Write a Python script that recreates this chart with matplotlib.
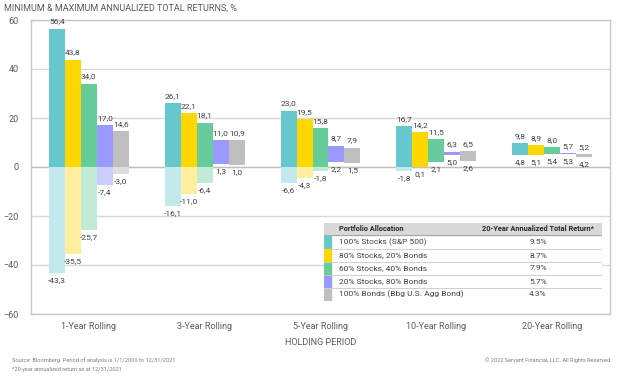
import matplotlib
matplotlib.use("Agg")
import matplotlib.pyplot as plt
from matplotlib.patches import Rectangle
import numpy as np

plt.rcParams["font.family"] = ["Roboto", "DejaVu Sans"]

CATEGORIES = ["1-Year Rolling", "3-Year Rolling", "5-Year Rolling",
              "10-Year Rolling", "20-Year Rolling"]
SERIES = ["100% Stocks (S&P 500)", "80% Stocks, 20% Bonds",
          "60% Stocks, 40% Bonds", "20% Stocks, 80% Bonds",
          "100% Bonds (Bbg U.S. Agg Bond)"]
MAX_RET = [
    [56.4, 26.1, 23.0, 16.7, 9.8],
    [43.8, 22.1, 19.5, 14.2, 8.9],
    [34.0, 18.1, 15.8, 11.5, 8.0],
    [17.0, 11.0, 8.7, 6.3, 5.7],
    [14.6, 10.9, 7.9, 6.5, 5.2],
]
MIN_RET = [
    [-43.3, -16.1, -6.6, -1.8, 4.8],
    [-35.5, -11.0, -4.3, 0.1, 5.1],
    [-25.7, -6.4, -1.8, 2.1, 5.4],
    [-7.4, 1.3, 2.2, 5.0, 5.3],
    [-3.0, 1.0, 1.5, 2.6, 4.2],
]
RET_20Y = ["9.5%", "8.7%", "7.9%", "5.7%", "4.3%"]

SOLID = ["#66C8CC", "#FFD700", "#66CC99", "#9999FF", "#BFBFBF"]
LIGHT = ["#C2E9EB", "#FFEE9E", "#C2EBD6", "#CCCCFF", "#DDDDDD"]
TXT = "#404040"
GRID = "#D9D9D9"


def fmt(v):
    return f"{v:.1f}".replace(".", ",")


def main():
    fig = plt.figure(figsize=(6.24, 3.76), dpi=100)
    W, H = 624, 376
    ax = fig.add_axes([31 / W, 1 - 314 / H, (610 - 31) / W, (314 - 20) / H])

    x = np.arange(len(CATEGORIES))
    bw = 0.138
    n = len(SERIES)
    for i in range(n):
        hi = np.array(MAX_RET[i])
        lo = np.array(MIN_RET[i])
        xs = x + (i - (n - 1) / 2) * bw
        base = np.maximum(lo, 0)
        # light part below zero, solid part from max(min, 0) up to max
        ax.bar(xs, np.minimum(lo, 0), width=bw, color=LIGHT[i], zorder=2)
        ax.bar(xs, hi - base, bottom=base, width=bw, color=SOLID[i], zorder=3)
        for xv, h, l in zip(xs, hi, lo):
            ax.annotate(fmt(h), (xv, h), xytext=(0, 3), textcoords="offset points",
                        ha="center", va="bottom", fontsize=6, color=TXT)
            ax.annotate(fmt(l), (xv, l), xytext=(0, -3), textcoords="offset points",
                        ha="center", va="top", fontsize=6, color=TXT)

    ax.set_xlim(-0.5, len(CATEGORIES) - 0.5)
    ax.set_ylim(-60, 60)
    ax.set_yticks([-60, -40, -20, 0, 20, 40, 60])
    ax.set_xticks(x)
    ax.set_xticklabels(CATEGORIES)
    ax.tick_params(axis="both", length=0, labelsize=6.5, colors="#595959")
    ax.tick_params(axis="x", pad=6)
    ax.tick_params(axis="y", pad=9)
    ax.grid(axis="y", color=GRID, linewidth=1, zorder=0)
    ax.axhline(0, color="#BFBFBF", linewidth=1, zorder=1)
    ax.set_axisbelow(True)
    for s in ax.spines.values():
        s.set_color("#C8C8C8")
        s.set_linewidth(1)
    ax.set_xlabel("HOLDING PERIOD", fontsize=6.5, color="#595959", labelpad=5)

    fig.text(4 / W, 1 - 8 / H, "MINIMUM & MAXIMUM ANNUALIZED TOTAL RETURNS, %",
             fontsize=6.5, color="#595959", va="center", ha="left")
    fig.text(12 / W, 1 - 360 / H,
             "Source: Bloomberg. Period of analysis is 1/1/2000 to 12/31/2021",
             fontsize=4.1, color="#7F7F7F", va="center")
    fig.text(12 / W, 1 - 369 / H, "*20-year annualized return as at 12/31/2021",
             fontsize=4.1, color="#7F7F7F", va="center")
    fig.text(610 / W, 1 - 360 / H,
             "\u00a9 2022 Servant Financial, LLC. All Rights Reserved",
             fontsize=4.1, color="#7F7F7F", va="center", ha="right")

    # legend table
    tl, tr, tt, tb = 324, 602, 223, 301
    tax = fig.add_axes([tl / W, 1 - tb / H, (tr - tl) / W, (tb - tt) / H])
    tax.set_xlim(0, tr - tl)
    tax.set_ylim(tb - tt, 0)
    tax.axis("off")
    tax.add_patch(Rectangle((0, 0), tr - tl, tb - tt, color="white", zorder=0))
    tax.add_patch(Rectangle((0, 0), tr - tl, 12, color="#D9D9D9", zorder=1))
    tax.text(15, 6, "Portfolio Allocation", fontsize=5.3, fontweight="bold",
             color="#262626", va="center")
    tax.text(214, 6, "20-Year Annualized Total Return*", fontsize=5.3,
             fontweight="bold", color="#262626", va="center", ha="center")
    tax.plot([0, tr - tl], [12.5, 12.5], color="#A6A6A6", lw=0.8)
    row_h = 13
    for i, (name, r) in enumerate(zip(SERIES, RET_20Y)):
        y0 = 13 + i * row_h
        tax.add_patch(Rectangle((0, y0 + 0.5), 7, row_h - 1, color=SOLID[i], zorder=2))
        tax.text(15, y0 + row_h / 2, name, fontsize=6, color="#404040", va="center")
        tax.text(214, y0 + row_h / 2, r, fontsize=6, color="#404040",
                 va="center", ha="center")
        tax.plot([0, tr - tl], [y0 + row_h, y0 + row_h], color="#D0D0D0", lw=0.7)

    fig.savefig("out.png", dpi=100)


if __name__ == "__main__":
    main()
